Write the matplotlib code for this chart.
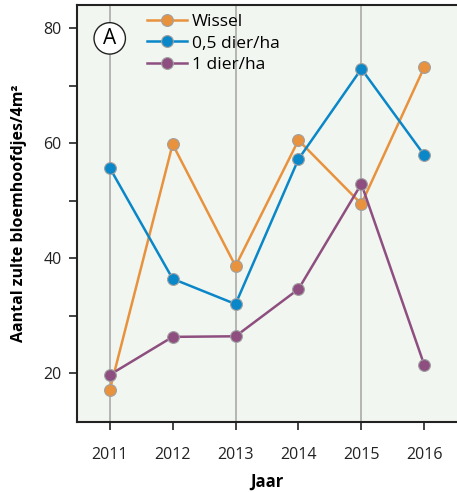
import matplotlib.pyplot as plt
import numpy as np

plt.rcParams['font.family'] = ['Open Sans', 'DejaVu Sans']

years = [2011, 2012, 2013, 2014, 2015, 2016]
wissel = [17.0, 59.8, 38.6, 60.5, 49.4, 73.2]
half_dier = [55.7, 36.4, 32.0, 57.2, 72.9, 57.9]
een_dier = [19.7, 26.3, 26.4, 34.6, 52.9, 21.4]

series_labels = ['Wissel', '0,5 dier/ha', '1 dier/ha']
series_colors = ['#e8923e', '#0a87c8', '#8e4f80']

fig = plt.figure(figsize=(4.57, 4.92), dpi=100)
ax = fig.add_axes([0.1685, 0.1423, 0.8315, 0.8475])
ax.set_facecolor('#f2f6f0')

for yr in [2011, 2013, 2015]:
    ax.axvline(yr, color='#aaaaaa', lw=1.2, zorder=0)

for vals, lab, col in zip([wissel, half_dier, een_dier], series_labels, series_colors):
    ax.plot(years, vals, color=col, lw=1.8, marker='o', ms=8.5,
            mfc=col, mec='#a0a0a0', mew=0.8, label=lab)

ax.set_xlim(2010.48, 2016.52)
ax.set_ylim(11.5, 84)
ax.set_xticks(years)
ax.set_yticks([20, 40, 60, 80])
ax.set_yticks([30, 50, 70], minor=True)
ax.tick_params(axis='both', which='both', direction='out', length=6, width=1.2,
               labelsize=11.5, colors='#222222')
ax.tick_params(axis='x', pad=12)
ax.tick_params(axis='y', pad=5)

ax.spines['right'].set_visible(False)
for s in ['left', 'bottom', 'top']:
    ax.spines[s].set_linewidth(1.5)
    ax.spines[s].set_color('#222222')

ax.set_xlabel('Jaar', fontsize=12, fontweight='bold', labelpad=7)
ax.set_ylabel('Aantal zulte bloemhoofdjes/4m²', fontsize=11.5, fontweight='bold', labelpad=12)

ax.legend(loc='upper left', bbox_to_anchor=(0.165, 0.995), frameon=False,
          fontsize=12.5, handlelength=2.3, handletextpad=0.3, labelspacing=0.3,
          borderaxespad=0.0)

ax.text(2011, 78.2, 'A', fontsize=15, ha='center', va='center',
        bbox=dict(boxstyle='circle,pad=0.25', fc='white', ec='#222222', lw=1.0))

fig.savefig('out.png', dpi=100)
